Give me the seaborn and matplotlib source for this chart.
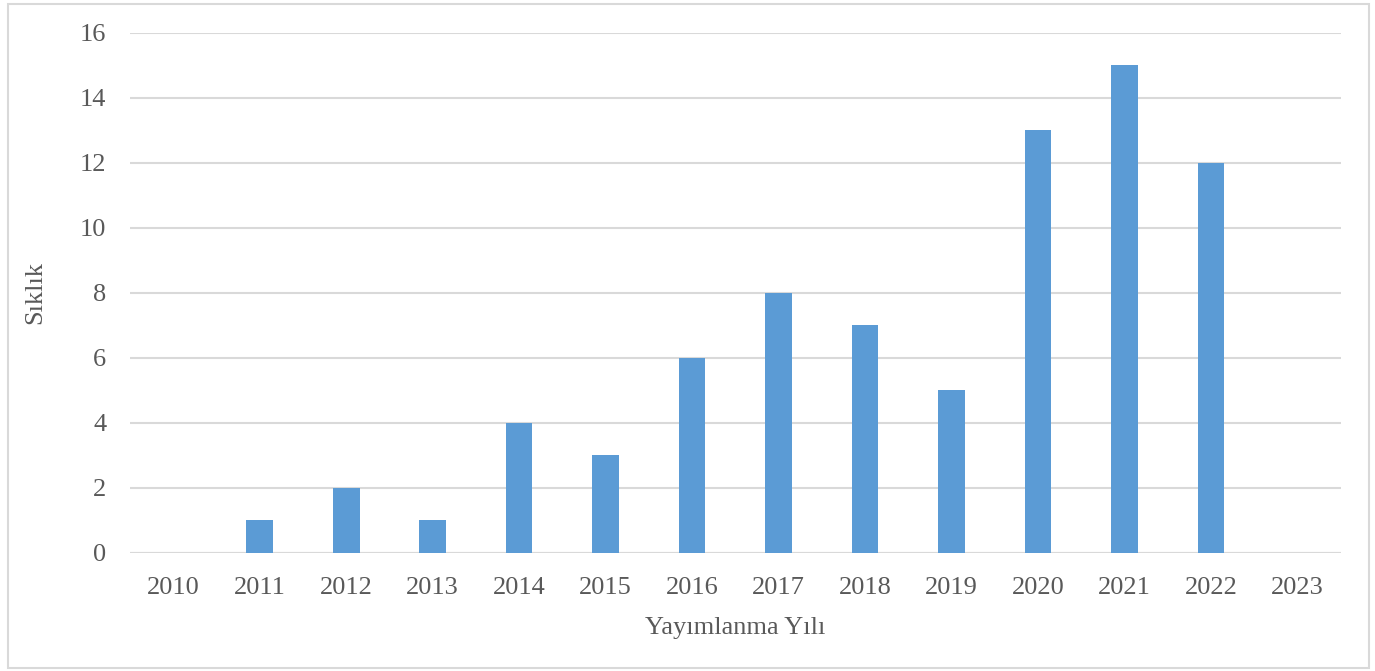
import pandas as pd
import seaborn as sns
import matplotlib.pyplot as plt
from matplotlib.patches import Rectangle

years = ["2010", "2011", "2012", "2013", "2014", "2015", "2016",
         "2017", "2018", "2019", "2020", "2021", "2022", "2023"]
counts = [0, 1, 2, 1, 4, 3, 6, 8, 7, 5, 13, 15, 12, 0]
y_ticks = [0, 2, 4, 6, 8, 10, 12, 14, 16]

sns.set_style("white")
plt.rcParams["font.family"] = ["Liberation Serif", "DejaVu Serif"]

text_color = "#595959"
grid_color = "#D9D9D9"

df = pd.DataFrame({"year": years, "count": counts})

fig = plt.figure(figsize=(13.75, 6.71), dpi=100)
ax = fig.add_axes([0.0945, 0.176, 0.8805, 0.775])

sns.barplot(data=df, x="year", y="count", color="#5B9BD5", width=0.31,
            saturation=1, linewidth=0, ax=ax, zorder=3)

ax.set_ylim(0, 16)
ax.set_xlim(-0.5, len(years) - 0.5)
ax.set_yticks(y_ticks)
ax.yaxis.grid(True, color=grid_color, linewidth=1.5, zorder=0)
ax.set_axisbelow(True)
for s in ax.spines.values():
    s.set_visible(False)
ax.axhline(0, color=grid_color, linewidth=1.5, zorder=1)

ax.tick_params(axis="both", length=0, labelsize=19, colors=text_color)
ax.tick_params(axis="x", pad=17)
ax.tick_params(axis="y", pad=17)
ax.set_xlabel("Yayımlanma Yılı", fontsize=19, color=text_color, labelpad=13)
ax.set_ylabel("Sıklık", fontsize=19, color=text_color, labelpad=24)

# outer chart border
fig.patches.append(Rectangle((8 / 1375, 3 / 671), 1361 / 1375, 664 / 671,
                             transform=fig.transFigure, fill=False,
                             edgecolor=grid_color, linewidth=1.5))

fig.savefig("out.png", dpi=100)
